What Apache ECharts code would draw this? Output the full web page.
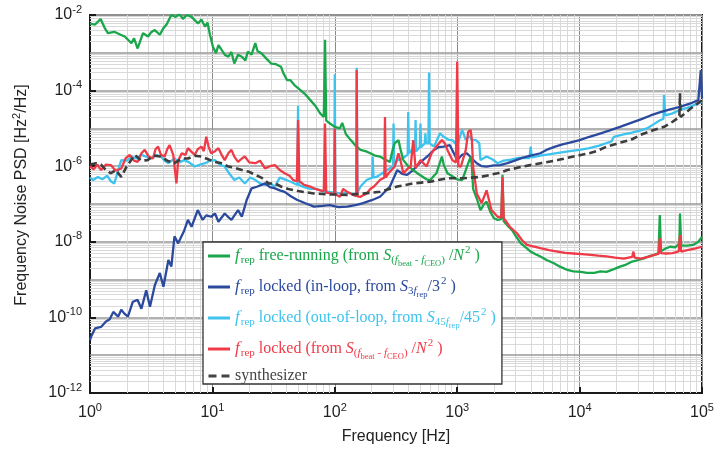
<!DOCTYPE html>
<html><head><meta charset="utf-8">
<script src="https://cdn.jsdelivr.net/npm/echarts@6/dist/echarts.min.js"></script>
<style>html,body{margin:0;padding:0;background:#fff}#c{width:719px;height:455px}</style>
</head><body><div id="c"></div>
<script>
// ---------- data: [frequency Hz, PSD Hz^2/Hz] ----------
const freeRunning = [[1,5.9e-3],[1.10,5.6e-3],[1.22,7.8e-3],[1.32,4.5e-3],[1.40,3.3e-3],[1.58,3.6e-3],[1.78,3.0e-3],[1.92,2.7e-3],[2.18,1.8e-3],[2.29,2.4e-3],[2.45,1.3e-3],[2.71,3.3e-3],[2.98,2.7e-3],[3.16,3.5e-3],[3.38,4.0e-3],[3.72,3.0e-3],[3.98,4.5e-3],[4.21,5.5e-3],[4.62,1.0e-2],[5.01,8.9e-3],[5.37,1.05e-2],[5.75,7.9e-3],[6.17,1.0e-2],[6.76,8.9e-3],[7.24,7.1e-3],[7.64,6.0e-3],[8.13,7.6e-3],[8.71,4.9e-3],[9.12,6.3e-3],[9.55,3.0e-3],[10.1,1.45e-3],[10.7,9.8e-4],[11.2,1.6e-3],[11.7,1.3e-3],[12.6,8.9e-4],[13.5,7.9e-4],[14.3,1.05e-3],[15.1,5.2e-4],[16.2,8.9e-4],[17.4,7.9e-4],[18.6,6.3e-4],[19.5,1.07e-3],[20.9,8.9e-4],[22.4,1.8e-3],[23.4,1.1e-3],[25.1,9.8e-4],[27.5,7.1e-4],[30.2,5.2e-4],[33.1,5.0e-4],[36.3,4.3e-4],[38.0,2.9e-4],[40.7,1.9e-4],[43.2,1.9e-4],[46.8,1.4e-4],[52.1,1.05e-4],[57.5,7.9e-5],[63.1,5.6e-5],[69.2,4.0e-5],[75.9,2.5e-5],[81.3,2.0e-5],[83.2,2.2e-3],[85.1,1.6e-5],[91.2,1.35e-5],[100,1.1e-5],[110,1.0e-5],[115,1.4e-5],[123,7.1e-6],[135,4.9e-6],[148,3.5e-6],[162,2.7e-6],[178,2.5e-6],[195,2.2e-6],[214,1.9e-6],[234,1.8e-6],[257,1.5e-6],[282,1.3e-6],[295,2.5e-6],[309,4.1e-6],[331,4.9e-6],[347,2.5e-6],[363,1.45e-6],[398,1.0e-6],[437,7.9e-7],[479,6.3e-7],[525,5.2e-7],[562,4.5e-7],[603,4.3e-7],[646,5.6e-7],[676,6.5e-7],[724,1.26e-6],[750,1.8e-6],[776,1.1e-6],[832,6.5e-7],[933,5.2e-7],[1000,4.5e-7],[1096,4.3e-7],[1148,6.3e-7],[1202,9.8e-7],[1288,1.8e-6],[1318,1.0e-6],[1349,2.5e-7],[1445,1.4e-7],[1549,6.9e-8],[1660,1.0e-7],[1738,1.15e-7],[1862,6.3e-8],[1995,4.2e-8],[2138,3.8e-8],[2291,4.0e-8],[2344,5.9e-7],[2399,3.5e-8],[2455,3.1e-8],[2630,2.5e-8],[2818,2.0e-8],[3020,1.4e-8],[3311,9.1e-9],[3631,7.1e-9],[3981,5.5e-9],[4365,4.7e-9],[4786,4.1e-9],[5370,3.3e-9],[6166,2.7e-9],[6918,2.2e-9],[7943,1.8e-9],[8913,1.65e-9],[10230,1.6e-9],[11480,1.5e-9],[13180,1.5e-9],[14790,1.65e-9],[16600,1.6e-9],[19050,1.9e-9],[21380,2.2e-9],[23990,2.5e-9],[26920,3.0e-9],[30200,3.3e-9],[33110,3.6e-9],[37150,4.2e-9],[40740,4.5e-9],[44160,5.0e-9],[45190,5.1e-8],[46240,5.6e-9],[50120,6.6e-9],[54950,7.4e-9],[60260,7.1e-9],[65310,8.9e-9],[66070,5.6e-8],[67610,7.9e-9],[75860,7.9e-9],[85110,8.3e-9],[93330,1.0e-8],[100000,1.35e-8]];

const lockedInLoop = [[1,2.5e-11],[1.02,3.1e-11],[1.10,5.1e-11],[1.23,5.6e-11],[1.35,7.8e-11],[1.45,8.9e-11],[1.55,1.4e-10],[1.70,1.05e-10],[1.80,1.6e-10],[1.91,1.26e-10],[2.04,1.05e-10],[2.24,2.6e-10],[2.45,2.9e-10],[2.63,1.7e-10],[2.88,5.2e-10],[3.09,1.9e-10],[3.39,7.2e-10],[3.72,1.5e-9],[3.98,6.5e-10],[4.37,3.3e-9],[4.62,2.2e-9],[4.90,1.4e-8],[5.25,9.1e-9],[5.89,2.0e-8],[6.31,3.8e-8],[6.76,2.5e-8],[7.59,6.9e-8],[8.32,3.8e-8],[8.91,5.0e-8],[9.77,4.6e-8],[10.5,5.6e-8],[11.2,3.4e-8],[12.6,5.6e-8],[13.5,4.5e-8],[14.3,3.8e-8],[16.2,6.9e-8],[17.4,4.6e-8],[19.1,1.3e-7],[20.9,2.6e-7],[23.4,2.9e-7],[26.9,3.5e-7],[29.5,2.8e-7],[32.4,2.6e-7],[35.5,2.3e-7],[38.9,2.1e-7],[43.7,1.6e-7],[49.0,1.3e-7],[57.5,1.05e-7],[67.6,8.5e-8],[79.4,8.9e-8],[91.2,9.3e-8],[107,8.3e-8],[126,8.5e-8],[151,9.5e-8],[170,1.05e-7],[200,1.26e-7],[234,1.55e-7],[282,2.9e-7],[324,7.9e-7],[355,6.3e-7],[389,5.9e-7],[437,7.9e-7],[479,1.1e-6],[525,1.45e-6],[589,2.0e-6],[646,2.7e-6],[708,3.2e-6],[776,3.3e-6],[871,3.6e-6],[1000,1.45e-6],[1096,2.0e-6],[1202,2.2e-6],[1318,1.6e-6],[1445,1.2e-6],[1585,1.0e-6],[1738,9.8e-7],[1995,1.05e-6],[2239,1.07e-6],[2570,1.2e-6],[2951,1.4e-6],[3388,1.66e-6],[3981,1.9e-6],[4786,2.2e-6],[5495,2.8e-6],[6310,3.3e-6],[7244,3.8e-6],[8318,4.2e-6],[10000,4.9e-6],[12020,6.0e-6],[14450,7.2e-6],[17380,8.7e-6],[21380,1.1e-5],[26300,1.4e-5],[31620,1.74e-5],[38020,2.2e-5],[45710,2.7e-5],[54950,3.2e-5],[66070,3.7e-5],[79430,4.5e-5],[93330,5.6e-5],[97720,3.5e-4],[100000,6.3e-5]];

const lockedOutOfLoop = [[1,5.0e-7],[1.06,4.3e-7],[1.16,5.2e-7],[1.26,4.5e-7],[1.38,5.6e-7],[1.48,4.0e-7],[1.58,3.5e-7],[1.70,7.9e-7],[1.80,1.45e-6],[2.0,1.4e-6],[2.19,1.8e-6],[2.40,1.6e-6],[2.63,2.0e-6],[2.88,1.8e-6],[3.16,1.6e-6],[3.47,2.0e-6],[3.80,1.8e-6],[4.07,1.4e-6],[4.37,1.2e-6],[4.90,1.6e-6],[5.37,1.26e-6],[5.89,1.45e-6],[6.46,1.26e-6],[7.18,9.8e-7],[7.94,1.1e-6],[8.71,1.2e-6],[9.55,1.4e-6],[10.5,1.45e-6],[11.5,1.1e-6],[12.6,9.8e-7],[13.8,6.3e-7],[15.1,4.3e-7],[16.6,5.0e-7],[18.4,3.5e-7],[20.4,5.0e-7],[22.4,4.3e-7],[24.5,3.5e-7],[26.9,3.2e-7],[29.5,3.5e-7],[32.4,2.9e-7],[35.5,5.0e-7],[38.9,4.5e-7],[42.7,4.0e-7],[46.8,3.5e-7],[49.5,3.2e-7],[50.1,4.0e-5],[50.7,3.2e-7],[56.2,2.8e-7],[63.1,2.5e-7],[70.8,2.5e-7],[79.4,2.2e-7],[98.9,2.0e-7],[100,2.7e-4],[101,2.0e-7],[112,1.9e-7],[126,2.0e-7],[150,1.8e-7],[151,4.0e-4],[153,2.0e-7],[162,2.9e-7],[182,4.3e-7],[202,5.0e-7],[204,1.8e-6],[207,5.0e-7],[219,5.2e-7],[269,7.9e-7],[299,1.0e-6],[302,1.35e-5],[305,1.0e-6],[324,1.45e-6],[355,1.6e-6],[394,2.0e-6],[398,2.7e-5],[403,2.2e-6],[427,2.7e-6],[452,2.5e-6],[457,1.66e-5],[462,2.5e-6],[495,3.2e-6],[501,1.35e-5],[507,3.2e-6],[543,4.0e-6],[550,7.4e-6],[556,4.0e-6],[582,4.0e-6],[589,3.0e-4],[596,4.0e-6],[646,3.3e-6],[724,7.4e-6],[776,6.0e-6],[851,5.0e-6],[912,4.9e-6],[1000,3.5e-6],[1096,9.1e-6],[1175,5.0e-6],[1259,6.3e-6],[1318,4.9e-6],[1413,5.0e-6],[1514,4.1e-6],[1549,1.45e-6],[1738,1.8e-6],[1950,1.5e-6],[2138,1.2e-6],[2399,1.4e-6],[2754,1.5e-6],[3162,1.66e-6],[3900,1.65e-6],[3981,3.3e-6],[4070,1.7e-6],[4786,1.9e-6],[5754,2.1e-6],[6918,2.3e-6],[8318,2.5e-6],[10000,2.7e-6],[12020,3.0e-6],[14450,3.5e-6],[16600,4.1e-6],[18200,4.5e-6],[19050,6.0e-6],[22390,6.8e-6],[26300,7.6e-6],[31620,8.9e-6],[35480,1.0e-5],[39810,1.26e-5],[44670,1.6e-5],[48420,1.8e-5],[48980,7.6e-5],[50120,2.2e-5],[57540,2.5e-5],[66070,3.1e-5],[75860,3.5e-5],[87100,4.2e-5],[100000,5.0e-5]];

const lockedBeat = [[1,1.0e-6],[1.07,8.3e-7],[1.15,1.1e-6],[1.23,7.9e-7],[1.35,1.1e-6],[1.48,1.07e-6],[1.62,7.6e-7],[1.80,8.7e-7],[1.95,1.6e-6],[2.11,2.0e-6],[2.29,1.4e-6],[2.45,1.3e-6],[2.63,2.2e-6],[2.80,2.7e-6],[3.02,1.8e-6],[3.27,1.6e-6],[3.43,2.8e-6],[3.60,3.3e-6],[3.80,2.0e-6],[4.07,1.8e-6],[4.27,2.8e-6],[4.47,3.6e-6],[4.79,2.0e-6],[5.08,3.5e-7],[5.25,1.4e-6],[5.62,2.2e-6],[6.03,2.0e-6],[6.31,3.0e-6],[6.76,2.4e-6],[7.18,2.0e-6],[7.59,2.8e-6],[8.13,3.3e-6],[8.51,2.5e-6],[8.91,6.0e-6],[9.33,3.2e-6],[9.77,2.2e-6],[10.5,2.5e-6],[11.2,3.0e-6],[11.9,2.0e-6],[12.6,1.45e-6],[13.5,2.2e-6],[14.3,2.7e-6],[15.1,1.8e-6],[16.2,1.3e-6],[17.4,1.6e-6],[18.4,1.8e-6],[20.0,1.26e-6],[22.4,1.2e-6],[24.5,1.4e-6],[26.9,8.7e-7],[29.5,1.0e-6],[32.4,1.07e-6],[35.5,7.9e-7],[38.9,6.5e-7],[42.7,5.6e-7],[45.7,4.3e-7],[49.0,4.0e-7],[50.1,1.66e-5],[51.3,4.0e-7],[56.2,3.2e-7],[63.1,2.9e-7],[69.2,2.5e-7],[75.9,2.3e-7],[81.3,2.2e-7],[83.2,1.35e-5],[85.1,2.0e-7],[93.3,1.9e-7],[98.9,1.8e-7],[100,1.0e-5],[101,1.8e-7],[110,1.55e-7],[117,2.5e-7],[126,2.1e-7],[138,1.8e-7],[150,1.6e-7],[151,3.5e-4],[153,1.6e-7],[162,1.55e-7],[182,1.9e-7],[195,2.5e-7],[209,2.9e-7],[234,4.3e-7],[254,5.0e-7],[257,2.0e-5],[260,5.0e-7],[275,6.5e-7],[309,9.8e-7],[331,2.2e-6],[347,1.26e-6],[363,6.5e-7],[398,8.9e-7],[417,9.8e-7],[437,4.9e-6],[457,8.9e-7],[501,1.45e-6],[562,9.8e-7],[617,2.2e-6],[676,3.3e-6],[750,4.9e-6],[794,4.0e-6],[832,2.7e-6],[912,1.45e-6],[977,1.26e-6],[1000,5.9e-4],[1023,1.0e-6],[1072,9.8e-7],[1175,2.7e-6],[1230,8.1e-6],[1288,9.1e-6],[1318,4.9e-6],[1349,9.8e-7],[1445,1.9e-7],[1585,1.05e-7],[1738,2.3e-7],[1905,6.9e-8],[2138,4.6e-8],[2291,4.5e-8],[2344,5.2e-7],[2399,4.2e-8],[2455,3.8e-8],[2692,2.5e-8],[3090,1.66e-8],[3388,1.1e-8],[3715,8.3e-9],[4169,7.6e-9],[4786,6.8e-9],[5623,6.0e-9],[6607,5.5e-9],[7586,5.1e-9],[8913,4.9e-9],[10470,4.7e-9],[12300,4.5e-9],[14130,4.3e-9],[16600,4.1e-9],[19500,3.8e-9],[22910,3.6e-9],[26920,4.0e-9],[27540,5.5e-9],[28180,3.8e-9],[31620,3.6e-9],[36310,4.0e-9],[40740,4.5e-9],[44160,4.8e-9],[45190,1.26e-8],[46240,5.0e-9],[51290,4.9e-9],[57540,5.0e-9],[64570,5.6e-9],[66070,1.5e-8],[67610,5.5e-9],[75860,6.0e-9],[87100,6.6e-9],[100000,7.4e-9]];

const synthesizer = [[1,1.1e-6],[1.12,1.2e-6],[1.23,1.1e-6],[1.35,7.9e-7],[1.48,6.5e-7],[1.62,7.9e-7],[1.80,5.2e-7],[2.0,1.0e-6],[2.32,2.0e-6],[2.63,1.4e-6],[2.95,1.45e-6],[3.31,1.9e-6],[3.80,1.8e-6],[4.27,1.4e-6],[4.90,1.2e-6],[5.62,1.6e-6],[6.31,1.6e-6],[7.24,1.9e-6],[8.13,1.8e-6],[9.33,1.5e-6],[10.5,1.3e-6],[12.0,1.2e-6],[13.5,9.8e-7],[15.5,8.9e-7],[17.4,7.9e-7],[20.0,7.1e-7],[22.4,5.9e-7],[25.1,5.0e-7],[28.8,3.5e-7],[32.4,3.5e-7],[36.3,2.9e-7],[41.7,2.5e-7],[50.1,2.2e-7],[67.6,1.9e-7],[91.2,1.8e-7],[126,1.74e-7],[170,1.9e-7],[234,2.1e-7],[324,2.9e-7],[437,3.5e-7],[603,3.9e-7],[832,4.8e-7],[1122,4.8e-7],[1549,5.2e-7],[2138,6.5e-7],[2570,7.9e-7],[3548,1.0e-6],[4786,1.2e-6],[6607,1.45e-6],[8913,1.8e-6],[12020,2.2e-6],[13800,2.5e-6],[16600,3.3e-6],[20890,4.1e-6],[26300,5.0e-6],[31620,6.8e-6],[39810,8.9e-6],[48980,1.1e-5],[57540,1.5e-5],[65310,2.0e-5],[66070,8.5e-5],[66830,2.0e-5],[79430,3.2e-5],[100000,5.6e-5]];

const xExponents = [0, 1, 2, 3, 4, 5];
const yExponents = [-12, -10, -8, -6, -4, -2];

// ---------- styling ----------
const GREEN = '#1aa64b', DARKBLUE = '#2b4a9e', LIGHTBLUE = '#3ec3ee', RED = '#ef3a47', SYN = '#3d3d3d';
const SANS = "'Liberation Sans', Arial, Helvetica, sans-serif";
const SERIF = "'Liberation Serif', 'Times New Roman', serif";
const X_MIN = 1, X_MAX = 100000;

const minorX = [], minorY = [], oddDecades = [];
for (let k = 0; k <= 4; k++) for (let m = 2; m <= 9; m++) minorX.push({ xAxis: m * Math.pow(10, k) });
for (let k = -12; k <= -3; k++) for (let m = 2; m <= 9; m++) {
  const v = m * Math.pow(10, k);
  minorY.push([{ coord: [X_MIN, v] }, { coord: [X_MAX, v] }]);
}
for (let k = -11; k <= -3; k += 2) {
  const v = Math.pow(10, k);
  oddDecades.push([{ coord: [X_MIN, v] }, { coord: [X_MAX, v] }]);
}

const legendText = {
  free: '{fi|f}{sb|rep}{t| free-running (from }{Si|S}{s1|(}{s1i|f}{s2|beat}{s1| - }{s1i|f}{s2|CEO}{s1|)}{t| /}{ti|N}{sup|2}{t| )}',
  inloop: '{fi|f}{sb|rep}{t| locked (in-loop, from }{Si|S}{s1|3}{s1i|f}{s2|rep}{t|/3}{sup|2}{t| )}',
  outloop: '{fi|f}{sb|rep}{t| locked (out-of-loop, from }{Si|S}{s1|45}{s1i|f}{s2|rep}{t|/45}{sup|2}{t| )}',
  locked: '{fi|f}{sb|rep}{t| locked (from }{Si|S}{s1|(}{s1i|f}{s2|beat}{s1| - }{s1i|f}{s2|CEO}{s1|)}{t| /}{ti|N}{sup|2}{t| )}',
  synth: '{t|synthesizer}'
};
const LH = 22;
const rich = {
  fi: { fontFamily: SERIF, fontStyle: 'italic', fontSize: 17, lineHeight: LH },
  sb: { fontFamily: SERIF, fontSize: 11, padding: [9, 0, 0, 1], lineHeight: LH },
  t: { fontFamily: SERIF, fontSize: 16, lineHeight: LH },
  Si: { fontFamily: SERIF, fontStyle: 'italic', fontSize: 16, lineHeight: LH },
  ti: { fontFamily: SERIF, fontStyle: 'italic', fontSize: 16, lineHeight: LH },
  s1: { fontFamily: SERIF, fontSize: 11, padding: [9, 0, 0, 0], lineHeight: LH },
  s1i: { fontFamily: SERIF, fontStyle: 'italic', fontSize: 11, padding: [9, 0, 0, 0], lineHeight: LH },
  s2: { fontFamily: SERIF, fontSize: 8.5, padding: [15, 0, 0, 0], lineHeight: LH },
  sup: { fontFamily: SERIF, fontSize: 11, padding: [0, 0, 11, 1], lineHeight: LH }
};
const SOLID_ICON = 'path://M0,0H22V3H0Z';
const DASH_ICON = 'path://M0,0H8V3H0Z M13,0H21V3H13Z';

function dataSeries(name, data, color, z, dashed) {
  return {
    name, type: 'line', data, z,
    showSymbol: false, symbol: 'none', silent: true, clip: true,
    color,
    lineStyle: { color, width: dashed ? 2.6 : 2.3, type: dashed ? [7, 4] : 'solid' },
    emphasis: { disabled: true }
  };
}
function gridSeries(name, lines, color, width) {
  return { name, type: 'line', data: [], z: 1, silent: true,
    markLine: { z: 1, silent: true, symbol: ['none', 'none'], label: { show: false }, animation: false,
      lineStyle: { color, width, type: 'solid' }, emphasis: { disabled: true }, data: lines } };
}

const chart = echarts.init(document.getElementById('c'), null, { renderer: 'canvas' });
chart.setOption({
  animation: false,
  backgroundColor: '#fff',
  grid: { left: 90, right: 17, top: 15, bottom: 62, show: true, borderColor: '#1a1a1a', borderWidth: 2, backgroundColor: 'transparent' },
  xAxis: {
    type: 'log', logBase: 10, min: X_MIN, max: X_MAX,
    name: 'Frequency [Hz]', nameLocation: 'middle', nameGap: 36,
    nameTextStyle: { fontFamily: SANS, fontSize: 16, color: '#222' },
    axisLine: { show: true, lineStyle: { color: '#1a1a1a', width: 2 } },
    axisTick: { show: true, inside: true, length: 6, lineStyle: { color: '#1a1a1a', width: 2 } },
    splitLine: { show: true, lineStyle: { color: '#8a8a8a', width: 1 } },
    minorTick: { show: false }, minorSplitLine: { show: false },
    axisLabel: {
      margin: 9, color: '#222',
      formatter: v => { const e = Math.round(Math.log10(v)); return xExponents.indexOf(e) >= 0 ? '{b|10}{e|' + e + '}' : ''; },
      rich: { b: { fontFamily: SANS, fontSize: 16, color: '#222' }, e: { fontFamily: SANS, fontSize: 11, color: '#222', padding: [0, 0, 11, 0] } }
    }
  },
  yAxis: {
    type: 'log', logBase: 100, min: 1e-12, max: 1e-2,
    name: '{a|Frequency Noise PSD [Hz}{sup|2}{a|/Hz]}', nameLocation: 'middle', nameGap: 58,
    nameTextStyle: { color: '#222', padding: [0, 0, 0, 18], rich: { a: { fontFamily: SANS, fontSize: 16, color: '#222' }, sup: { fontFamily: SANS, fontSize: 11, color: '#222', padding: [0, 0, 10, 0] } } },
    axisLine: { show: true, lineStyle: { color: '#1a1a1a', width: 2 } },
    axisTick: { show: true, inside: true, length: 6, lineStyle: { color: '#1a1a1a', width: 2 } },
    splitLine: { show: true, lineStyle: { color: '#999', width: 1.5 } },
    minorTick: { show: false }, minorSplitLine: { show: false },
    axisLabel: {
      margin: 8, color: '#222',
      formatter: v => { const e = Math.round(Math.log10(v)); return yExponents.indexOf(e) >= 0 ? '{b|10}{e|' + e + '}' : ''; },
      rich: { b: { fontFamily: SANS, fontSize: 16, color: '#222' }, e: { fontFamily: SANS, fontSize: 11, color: '#222', padding: [0, 0, 11, 0] } }
    }
  },
  legend: {
    z: 20,
    orient: 'vertical', left: 203, top: 242,
    itemWidth: 22, itemHeight: 3, itemGap: 7,
    padding: [2, 6, 0, 5],
    backgroundColor: '#fff', borderColor: '#333', borderWidth: 1.3, borderRadius: 0,
    selectedMode: false,
    data: [
      { name: 'free', icon: SOLID_ICON, itemStyle: { color: GREEN }, textStyle: { color: GREEN } },
      { name: 'inloop', icon: SOLID_ICON, itemStyle: { color: DARKBLUE }, textStyle: { color: DARKBLUE } },
      { name: 'outloop', icon: SOLID_ICON, itemStyle: { color: LIGHTBLUE }, textStyle: { color: LIGHTBLUE } },
      { name: 'locked', icon: SOLID_ICON, itemStyle: { color: RED }, textStyle: { color: RED } },
      { name: 'synth', icon: DASH_ICON, itemStyle: { color: '#444' }, textStyle: { color: '#444' } }
    ],
    formatter: n => legendText[n],
    textStyle: { fontFamily: SERIF, fontSize: 16, rich }
  },
  series: [
    gridSeries('minorGridX', minorX, '#d9d9d9', 1),
    gridSeries('minorGridY', minorY, '#d9d9d9', 1),
    gridSeries('majorGridY', oddDecades, '#999', 1.5),
    dataSeries('outloop', lockedOutOfLoop, LIGHTBLUE, 2),
    dataSeries('inloop', lockedInLoop, DARKBLUE, 3),
    dataSeries('free', freeRunning, GREEN, 4),
    dataSeries('locked', lockedBeat, RED, 5),
    dataSeries('synth', synthesizer, SYN, 6, true)
  ]
});
</script></body></html>
